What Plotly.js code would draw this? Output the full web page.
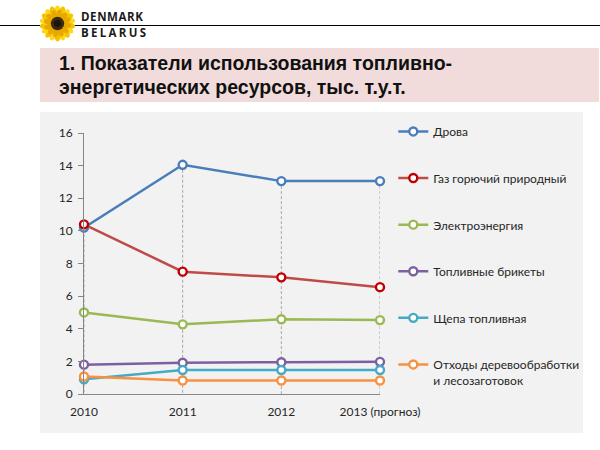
<!DOCTYPE html>
<html>
<head>
<meta charset="utf-8">
<script src="https://cdn.plot.ly/plotly-3.0.1.min.js"></script>
<style>
  html, body { margin:0; padding:0; width:600px; height:450px; background:#fff; overflow:hidden; }
  #hline { position:absolute; left:0; top:24.5px; width:600px; height:1.6px; background:#000; }
  #logo { position:absolute; left:39px; top:5px; width:37px; height:37px; }
  #brand1, #brand2 { position:absolute; left:81px; font-family:"Open Sans", "DejaVu Sans", sans-serif; font-weight:700; font-size:11.5px; color:#1a1a1a; line-height:12px; height:12px; }
  #brand1 { top:11px; letter-spacing:0.6px; }
  #brand2 { top:27px; letter-spacing:2.3px; }
  #titlebox { position:absolute; left:40px; top:48px; width:559px; height:54px; background:#F2DCDB; }
  #titletext { position:absolute; left:19px; top:3px; font-family:"Liberation Sans", Arial, sans-serif; font-weight:700; font-size:19.5px; line-height:24px; color:#111; }
  #chart { position:absolute; left:40px; top:112px; width:543px; height:321px; background:#F2F2F2; }
</style>
</head>
<body>
<div id="hline"></div>
<svg id="logo" viewBox="-18 -18 36 36">
  <g id="petals"></g>
  <circle cx="0" cy="0" r="6.5" fill="#3b2a12"/>
  <circle cx="0" cy="0" r="3.5" fill="#1e140a"/>
</svg>
<div id="brand1">DENMARK</div>
<div id="brand2">BELARUS</div>
<div id="titlebox"><div id="titletext">1. Показатели использования топливно-<br>энергетических ресурсов, тыс. т.у.т.</div></div>
<div id="chart"></div>
<script>
// ---- decorative sunflower petals ----
(function(){
  var g = document.getElementById('petals'), s = '';
  for (var i = 0; i < 18; i++) {
    s += '<ellipse cx="0" cy="-11" rx="3.2" ry="6.5" fill="' + (i % 2 ? '#f5c400' : '#ffd81a') + '" transform="rotate(' + (i * 20) + ')"/>';
  }
  for (var j = 0; j < 12; j++) {
    s += '<ellipse cx="0" cy="-9" rx="2.6" ry="4.5" fill="#e8a800" transform="rotate(' + (j * 30 + 10) + ')"/>';
  }
  g.innerHTML = s;
})();

// ---- data ----
var categories = ["2010", "2011", "2012", "2013 (прогноз)"];
var seriesNames = ["Дрова", "Газ горючий природный", "Электроэнергия", "Топливные брикеты", "Щепа топливная", "Отходы деревообработки<br>и лесозаготовок"];
var drova      = [10.2, 14.05, 13.05, 13.05];
var gaz        = [10.4, 7.5, 7.15, 6.55];
var elektro    = [5.0, 4.27, 4.58, 4.53];
var brikety    = [1.8, 1.92, 1.95, 1.97];
var shchepa    = [0.9, 1.47, 1.47, 1.47];
var otkhody    = [1.07, 0.83, 0.83, 0.83];
var yTicks     = [0, 2, 4, 6, 8, 10, 12, 14, 16];

var allSeries = [drova, gaz, elektro, brikety, shchepa, otkhody];
var lineColors   = ["#4A7EBB", "#BE4B48", "#98B954", "#7D60A0", "#46AAC5", "#F69240"];
var markerColors = ["#4A7EBB", "#C00000", "#98B954", "#7D60A0", "#46AAC5", "#F69240"];

// drop lines from the highest value in each category down to zero
var dropX = [], dropY = [];
categories.forEach(function(c, i){
  var m = Math.max.apply(null, allSeries.map(function(s){ return s[i]; }));
  dropX.push(c, c, null); dropY.push(m, 0, null);
});

var traces = [{
  x: dropX, y: dropY, mode: 'lines', type: 'scatter',
  line: {color: '#A6A6A6', width: 1, dash: '3px,2px'},
  showlegend: false, hoverinfo: 'skip', cliponaxis: false
}];
allSeries.forEach(function(s, k){
  traces.push({
    x: categories, y: s, name: seriesNames[k], type: 'scatter', mode: 'lines+markers',
    legendgroup: 'g' + k, cliponaxis: false,
    line: {color: lineColors[k], width: 2.5},
    marker: {symbol: 'circle', size: 8, color: '#FFFFFF', line: {color: markerColors[k], width: 2.4}}
  });
});

var font = {family: 'Lato, "Open Sans", sans-serif', size: 12, color: '#262626'};
var layout = {
  width: 543, height: 321,
  margin: {l: 43.5, r: 203, t: 21, b: 39},
  paper_bgcolor: '#F2F2F2', plot_bgcolor: '#F2F2F2',
  font: font,
  showlegend: true,
  legend: {
    xref: 'container', yref: 'container',
    x: 0.6506, xanchor: 'left', y: 0.984, yanchor: 'top',
    bgcolor: 'rgba(0,0,0,0)', font: font, maxheight: 330,
    traceorder: 'grouped', tracegroupgap: 27.6, itemwidth: 30, valign: 'top'
  },
  xaxis: {
    type: 'category', range: [0, 3], showgrid: false, zeroline: false,
    showline: true, linecolor: '#868686', linewidth: 1,
    ticks: '', ticklabelstandoff: 7, tickfont: font, automargin: false
  },
  yaxis: {
    range: [0, 16], tickvals: yTicks, showgrid: false, zeroline: false,
    showline: true, linecolor: '#868686', linewidth: 1,
    ticks: 'outside', ticklen: 5, tickcolor: '#868686', ticklabelstandoff: 3, tickfont: font, automargin: false
  }
};
Plotly.newPlot('chart', traces, layout, {staticPlot: true, displayModeBar: false});
</script>
</body>
</html>
